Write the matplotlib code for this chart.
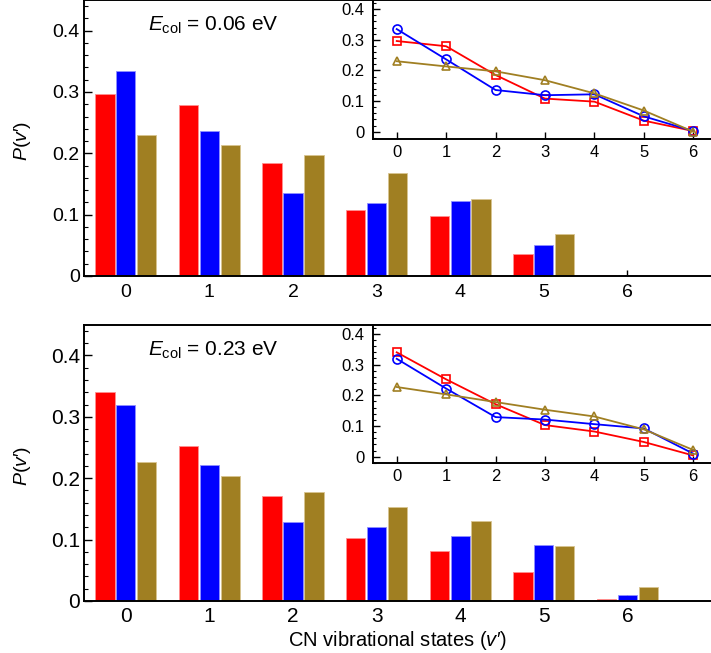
#!/usr/bin/env python3
"""
CN vibrational state distributions P(v') at two collision energies:
bar chart per panel with the same data as lines in an inset.
"""

import numpy as np
import matplotlib
matplotlib.use('Agg')
import matplotlib.pyplot as plt
from matplotlib.ticker import MultipleLocator, FuncFormatter

plt.rcParams['font.family'] = ['Liberation Sans', 'DejaVu Sans']
plt.rcParams['mathtext.fontset'] = 'custom'
plt.rcParams['mathtext.rm'] = 'Liberation Sans'
plt.rcParams['mathtext.it'] = 'Liberation Sans:italic'

# data
states = [0, 1, 2, 3, 4, 5, 6]

red_006 = [0.296, 0.279, 0.185, 0.108, 0.098, 0.036, 0.002]
blue_006 = [0.335, 0.236, 0.136, 0.119, 0.122, 0.050, 0.002]
gold_006 = [0.230, 0.213, 0.197, 0.168, 0.125, 0.069, 0.0]

red_023 = [0.340, 0.252, 0.171, 0.103, 0.082, 0.048, 0.004]
blue_023 = [0.319, 0.222, 0.129, 0.121, 0.106, 0.092, 0.010]
gold_023 = [0.227, 0.203, 0.178, 0.153, 0.131, 0.089, 0.022]

ecol_labels = ['0.06', '0.23']

RED = '#ff0000'
BLUE = '#0000ff'
GOLD = '#a07f22'
EDGES = {RED: '#ff9090', BLUE: '#9090ff', GOLD: '#d8c490'}


def ylab(v, pos):
    if abs(v) < 1e-9:
        return '0'
    return '%.1f' % v


def draw_panel(ax, ins, red, blue, gold, ecol, fs, xpad, ins_ylim):
    x = np.array(states)
    for off, vals, col in [(-0.25, red, RED), (0.0, blue, BLUE), (0.25, gold, GOLD)]:
        ax.bar(x + off, vals, width=0.23, color=col, edgecolor=EDGES[col],
               linewidth=0.6)
    ax.set_xlim(-0.5, 7.0)
    ax.set_ylim(0, 0.45)
    ax.set_xticks(states)
    ax.yaxis.set_major_locator(MultipleLocator(0.1))
    ax.yaxis.set_minor_locator(MultipleLocator(0.02))
    ax.yaxis.set_major_formatter(FuncFormatter(ylab))
    ax.set_axisbelow(True)
    ax.tick_params(axis='x', direction='in', length=4, width=1.0, pad=xpad,
                   labelsize=fs)
    ax.tick_params(axis='y', which='major', direction='in', length=6,
                   width=1.0, pad=3, labelsize=fs)
    ax.tick_params(axis='y', which='minor', direction='in', length=3,
                   width=0.8)
    for s in ax.spines.values():
        s.set_linewidth(1.4)
    ax.spines['right'].set_visible(False)
    ax.text(0.102, 0.888, r'$E_{\mathrm{col}}$ = %s eV' % ecol,
            transform=ax.transAxes, fontsize=15, va='baseline')
    ax.set_ylabel('$P$($v$\u2032)', fontsize=14)
    ax.yaxis.set_label_coords(-0.081, 0.49)

    # inset
    ins.plot(states, red, '-s', color=RED, mfc='none', ms=6, mew=1.2, lw=1.3)
    ins.plot(states, blue, '-o', color=BLUE, mfc='none', ms=6.5, mew=1.2,
             lw=1.3)
    ins.plot(states, gold, '-^', color=GOLD, mfc='none', ms=5.5, mew=1.2,
             lw=1.3)
    ins.set_xlim(-0.48, 6.36)
    ins.set_ylim(*ins_ylim)
    ins.set_xticks(states)
    ins.yaxis.set_major_locator(MultipleLocator(0.1))
    ins.yaxis.set_minor_locator(MultipleLocator(0.02))
    ins.yaxis.set_major_formatter(FuncFormatter(ylab))
    ins.tick_params(axis='x', direction='in', length=5, width=1.0, pad=4,
                    labelsize=12)
    ins.tick_params(axis='y', which='major', direction='in', length=5,
                    width=1.0, pad=6, labelsize=12)
    ins.tick_params(axis='y', which='minor', direction='in', length=2.5,
                    width=0.8)
    for s in ins.spines.values():
        s.set_linewidth(1.4)
    ins.spines['right'].set_visible(False)


if __name__ == '__main__':
    fig = plt.figure(figsize=(7.11, 6.53), dpi=100)
    W, H = 711.0, 653.0
    ax_top = fig.add_axes([84 / W, 377 / H, 627 / W, 276 / H])
    ins_top = fig.add_axes([373 / W, 514 / H, 338 / W, 139 / H])
    ax_bot = fig.add_axes([84 / W, 52 / H, 627 / W, 276.3 / H])
    ins_bot = fig.add_axes([373 / W, 189.7 / H, 338 / W, 138.6 / H])

    draw_panel(ax_top, ins_top, red_006, blue_006, gold_006, ecol_labels[0],
               14, 6, (-0.024, 0.43))
    draw_panel(ax_bot, ins_bot, red_023, blue_023, gold_023, ecol_labels[1],
               15, 4.5, (-0.0215, 0.43))

    fig.text(397.5 / W, (H - 646) / H, 'CN vibrational states ($v$\u2032)',
             ha='center', va='baseline', fontsize=14.5)

    fig.savefig('out.png', dpi=100)
